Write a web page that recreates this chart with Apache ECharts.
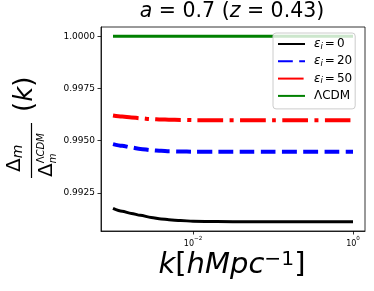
<!DOCTYPE html>
<html>
<head>
<meta charset="utf-8">
<script src="https://cdn.jsdelivr.net/npm/echarts@6/dist/echarts.min.js"></script>
<style>
html,body{margin:0;padding:0;background:#fff;}
#c{width:374px;height:291px;}
</style>
</head>
<body>
<div id="c"></div>
<script>
// ---- data ----
const kVals  = [0.001, 0.0013, 0.0017, 0.0022, 0.003, 0.004, 0.005, 0.007, 0.01, 0.02, 0.05, 0.1, 0.2, 0.5, 1.0];
const eps0   = [0.99175, 0.99161, 0.99151, 0.99142, 0.99132, 0.99125, 0.99121, 0.99117, 0.99114, 0.99112, 0.99111, 0.99111, 0.99111, 0.99111, 0.99111];
const eps20  = [0.99483, 0.99475, 0.99467, 0.99460, 0.99454, 0.99451, 0.99449, 0.99448, 0.99447, 0.99447, 0.99447, 0.99447, 0.99447, 0.99447, 0.99447];
const eps50  = [0.99620, 0.99615, 0.99611, 0.99607, 0.99603, 0.99601, 0.99600, 0.99599, 0.99598, 0.99598, 0.99598, 0.99598, 0.99598, 0.99598, 0.99598];
const lcdm   = [1.0, 1.0, 1.0, 1.0, 1.0, 1.0, 1.0, 1.0, 1.0, 1.0, 1.0, 1.0, 1.0, 1.0, 1.0];
const seriesNames = ['eps0', 'eps20', 'eps50', 'LCDM'];
const legendLabels = {
  eps0:  '{e|ε}{s|i}{q|=}0',
  eps20: '{e|ε}{s|i}{q|=}20',
  eps50: '{e|ε}{s|i}{q|=}50',
  LCDM:  'ΛCDM'
};
const xTicks = [0.01, 1];
const yTicks = [0.9925, 0.995, 0.9975, 1.0];

// ---- text helpers ----
const FF = '"DejaVu Sans"';
const mctx = document.createElement('canvas').getContext('2d');
function tw(t, size, it) { mctx.font = (it ? 'italic ' : '') + size + 'px ' + FF; return mctx.measureText(t).width; }
function tEl(t, x, base, size, it) {
  return { type: 'text', x: x, y: base - 0.32 * size, silent: true,
    style: { text: t, font: (it ? 'italic ' : '') + size + 'px ' + FF, fill: '#000',
             align: 'left', verticalAlign: 'middle', textAlign: 'left', textVerticalAlign: 'middle' } };
}
function row(pieces, cx, base) {
  let total = 0;
  pieces.forEach(p => { p.w = tw(p.t, p.size, p.it); total += p.w; });
  let x = cx - total / 2;
  const out = [];
  pieces.forEach(p => { out.push(tEl(p.t, x, base + (p.dy || 0), p.size, p.it)); x += p.w; });
  return out;
}

const titleEls = row([
  { t: 'a', size: 20.5, it: true },
  { t: ' = 0.7 (', size: 20.5 },
  { t: 'z', size: 20.5, it: true },
  { t: ' = 0.43)', size: 20.5 }
], 232, 18.5);

const xlabEls = row([
  { t: 'k', size: 29, it: true },
  { t: '[', size: 29 },
  { t: 'hMpc', size: 29, it: true },
  { t: '−1', size: 20.3, dy: -8.3 },
  { t: ']', size: 29 }
], 232, 275);

// y label, local frame (rotated 90deg ccw)
const dW = tw('Δ', 20, false);
const ylabChildren = [
  tEl('Δ', -43, -10.5, 20, false),
  tEl('m', -43 + dW, -8.5, 14, true),
  { type: 'line', silent: true, shape: { x1: -49, y1: 0, x2: 6, y2: 0 }, style: { stroke: '#000', lineWidth: 1.2 } },
  tEl('Δ', -48, 21.5, 20, false),
  tEl('Λ', -48 + dW, 13, 10, false),
  tEl('CDM', -48 + dW + tw('Λ', 10, false), 13, 10, true),
  tEl('m', -48 + dW, 25, 10, true),
  tEl('(', 17, 2, 26, false),
  tEl('k', 17 + tw('(', 26, false), 2, 26, true),
  tEl(')', 17 + tw('(', 26, false) + tw('k', 26, true), 2, 26, false)
];

function pairs(ys) { return kVals.map((k, i) => [k, ys[i]]); }

const chart = echarts.init(document.getElementById('c'), null, { renderer: 'canvas' });
chart.setOption({
  animation: false,
  backgroundColor: '#fff',
  textStyle: { fontFamily: 'DejaVu Sans' },
  grid: { left: 101, right: 9, top: 27, bottom: 60, show: true, borderColor: '#000', borderWidth: 0.8, backgroundColor: 'transparent' },
  xAxis: {
    type: 'log', logBase: 10,
    min: Math.pow(10, -3.15), max: Math.pow(10, 0.15),
    axisLine: { show: true, onZero: false, lineStyle: { color: '#000', width: 0.8 } },
    axisTick: { show: true, length: 3.5, customValues: xTicks, lineStyle: { color: '#000', width: 0.8 } },
    axisLabel: {
      customValues: xTicks, margin: 5, color: '#000',
      formatter: function (v) {
        const e = Math.round(Math.log10(v));
        return '{b|10}{s|' + (e < 0 ? '−' + (-e) : String(e)) + '}';
      },
      rich: {
        b: { fontSize: 8, lineHeight: 12, verticalAlign: 'bottom', color: '#000' },
        s: { fontSize: 5.6, lineHeight: 5, verticalAlign: 'top', color: '#000' }
      }
    },
    splitLine: { show: false }, minorTick: { show: false }
  },
  yAxis: {
    type: 'value', min: 0.99067, max: 1.00044,
    axisLine: { show: true, lineStyle: { color: '#000', width: 0.8 } },
    axisTick: { show: true, length: 3.5, customValues: yTicks, lineStyle: { color: '#000', width: 0.8 } },
    axisLabel: { customValues: yTicks, fontSize: 9, color: '#000', margin: 6, formatter: v => v.toFixed(4) },
    splitLine: { show: false }
  },
  legend: {
    orient: 'vertical', left: 273, top: 33,
    data: seriesNames,
    itemWidth: 27, itemHeight: 14, itemGap: 3.3,
    padding: [4, 3, 6, 4],
    backgroundColor: 'rgba(255,255,255,0.8)', borderColor: '#cccccc', borderWidth: 1, borderRadius: 3,
    itemStyle: { opacity: 0 },
    formatter: name => legendLabels[name],
    textStyle: {
      fontSize: 12, color: '#000', lineHeight: 14, padding: [0, 0, 0, 4],
      rich: {
        e: { fontSize: 12, fontStyle: 'italic', lineHeight: 14, color: '#000' },
        s: { fontSize: 8.5, fontStyle: 'italic', lineHeight: 8, verticalAlign: 'bottom', color: '#000' },
        q: { fontSize: 12, lineHeight: 14, color: '#000', padding: [0, 2, 0, 2] }
      }
    }
  },
  series: [
    { name: 'eps0', type: 'line', data: pairs(eps0), symbol: 'none', smooth: 0.3, smoothMonotone: 'x',
      lineStyle: { color: '#000000', width: 3, cap: 'butt' }, itemStyle: { color: '#000000' } },
    { name: 'eps20', type: 'line', data: pairs(eps20), symbol: 'none', smooth: 0.3, smoothMonotone: 'x',
      lineStyle: { color: '#0000ff', width: 4, type: [14.8, 6.4], cap: 'butt' }, itemStyle: { color: '#0000ff' } },
    { name: 'eps50', type: 'line', data: pairs(eps50), symbol: 'none', smooth: 0.3, smoothMonotone: 'x',
      lineStyle: { color: '#ff0000', width: 4, type: [25.6, 6.4, 4, 6.4], cap: 'butt' }, itemStyle: { color: '#ff0000' } },
    { name: 'LCDM', type: 'line', data: pairs(lcdm), symbol: 'none',
      lineStyle: { color: '#008000', width: 3, cap: 'butt' }, itemStyle: { color: '#008000' } }
  ],
  graphic: [].concat(titleEls, xlabEls, [{ type: 'group', x: 31.5, y: 129, rotation: Math.PI / 2, children: ylabChildren }])
});
</script>
</body>
</html>
